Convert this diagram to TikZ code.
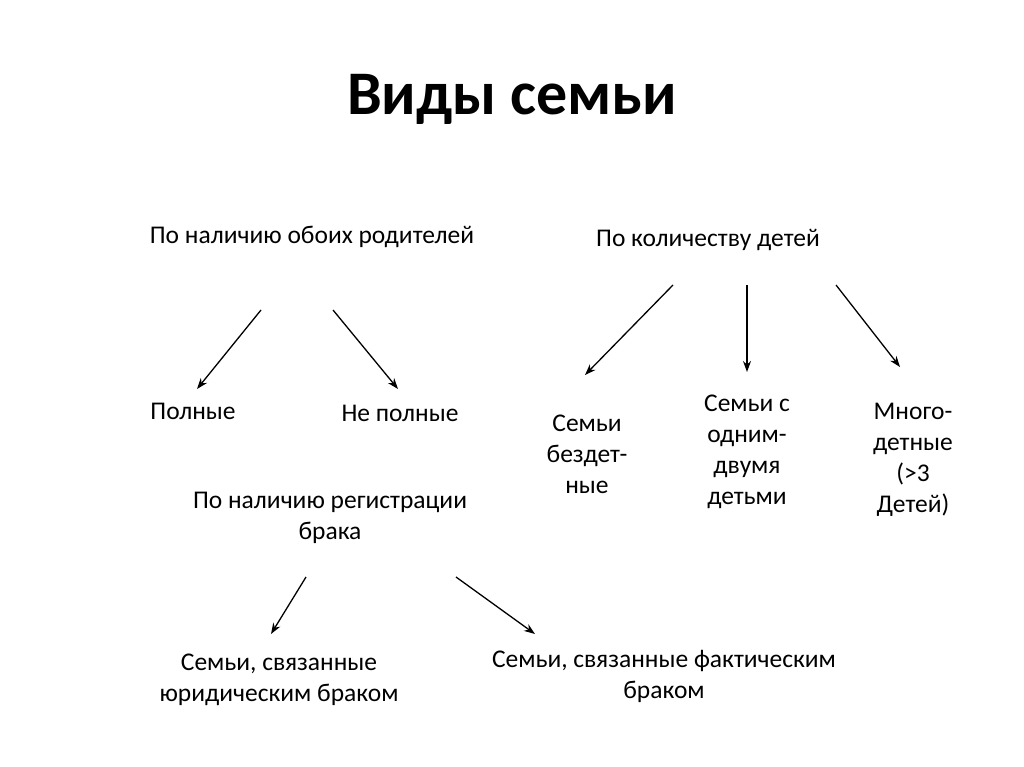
\documentclass[tikz,border=0pt]{standalone}
\usepackage{fontspec}
\setmainfont{Carlito}
\usetikzlibrary{arrows.meta}

\begin{document}
\begin{tikzpicture}[x=1pt, y=-1pt,
	lbl/.style={align=center, inner sep=0pt, font=\fontsize{25.5}{31}\selectfont},
	arr/.style={line width=1.3pt, -{Stealth[length=11pt, width=8pt]}}]
			%%%%% START %%%%%
			
			\useasboundingbox[fill=white] (0, 0) rectangle (1024, 767);
			
			\node[inner sep=0pt, font=\fontsize{62}{70}\bfseries\selectfont] (title) at (512, 99) {Виды семьи};
			
			\node[lbl] (roditeli) at (312, 237) {По наличию обоих родителей};
			\node[lbl] (deti) at (708, 240) {По количеству детей};
			
			\node[lbl] (polnye) at (193, 411) {Полные};
			\node[lbl] (nepolnye) at (400, 413) {Не полные};
			
			\node[lbl] (bezdet) at (587, 454) {Семьи\\бездет-\\ные};
			\node[lbl] (odnim) at (747, 452) {Семьи с\\одним-\\двумя\\детьми};
			\node[lbl] (mnogo) at (913, 460) {Много-\\детные\\(>3\\Детей)};
			
			\node[lbl] (brak) at (330, 518) {По наличию регистрации\\брака};
			
			\node[lbl] (yurid) at (279, 680) {Семьи, связанные\\юридическим браком};
			\node[lbl] (fakt) at (664, 676) {Семьи, связанные фактическим\\браком};
			
			\coordinate (a1s) at (261, 310);
			\coordinate (a1e) at (197, 389);
			\coordinate (a2s) at (333, 310);
			\coordinate (a2e) at (398, 389);
			
			\coordinate (b1s) at (673, 285);
			\coordinate (b1e) at (585, 375);
			\coordinate (b2s) at (747, 285);
			\coordinate (b2e) at (747, 372);
			\coordinate (b3s) at (836, 285);
			\coordinate (b3e) at (900, 367);
			
			\coordinate (c1s) at (306, 577);
			\coordinate (c1e) at (271, 634);
			\coordinate (c2s) at (456, 577);
			\coordinate (c2e) at (535, 634);
			
			\draw[arr] (a1s) -- (a1e);
			\draw[arr] (a2s) -- (a2e);
			
			\draw[arr] (b1s) -- (b1e);
			\draw[arr] (b2s) -- (b2e);
			\draw[arr] (b3s) -- (b3e);
			
			\draw[arr] (c1s) -- (c1e);
			\draw[arr] (c2s) -- (c2e);
			
			%%%%% END %%%%%
\end{tikzpicture}
\end{document}
